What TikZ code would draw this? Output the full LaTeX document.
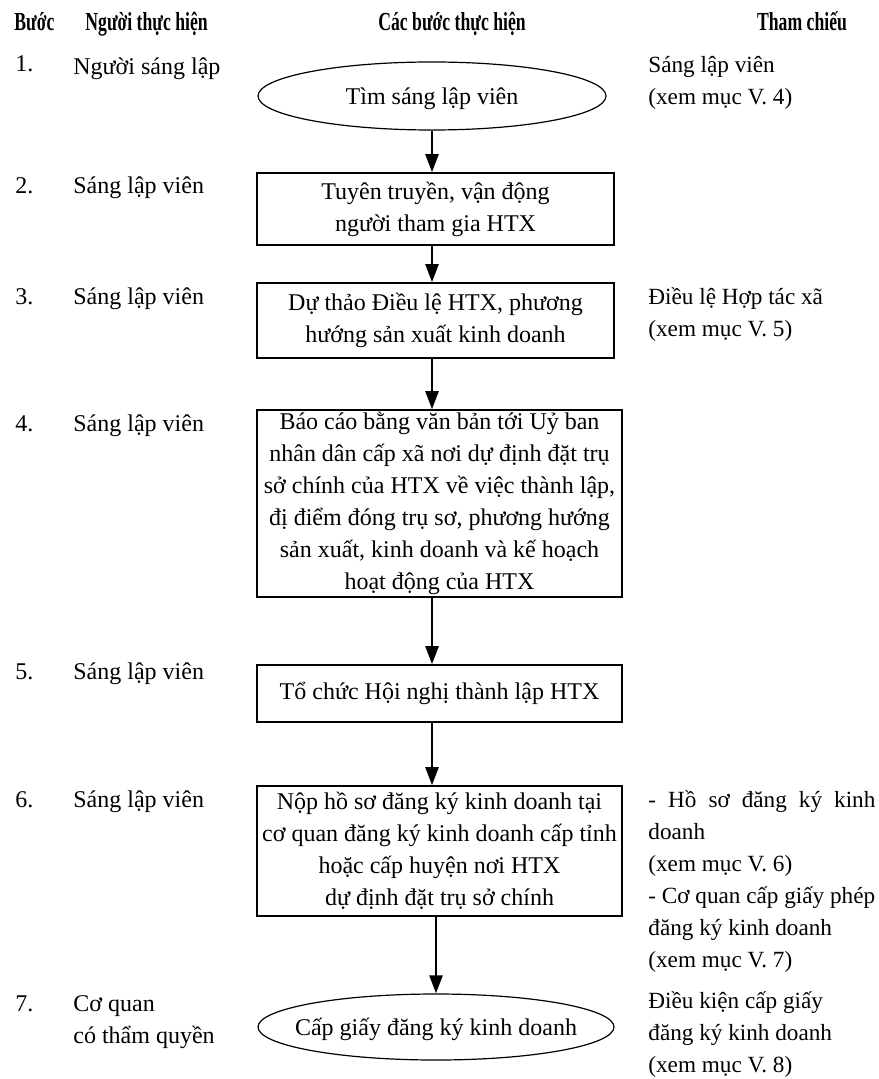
\documentclass[tikz,border=0pt]{standalone}
\usepackage{fontspec}
\setmainfont{Liberation Serif}
\newfontfamily\headfont[FakeStretch=0.68]{Liberation Serif}
\usetikzlibrary{arrows.meta, shapes.geometric}

\begin{document}
\begin{tikzpicture}[x=0.5pt,y=0.5pt,yscale=-1,
    every node/.style={font=\fontsize{12}{16}\selectfont},
    txt/.style={anchor=base west, inner sep=0pt, align=left},
    reftxt/.style={txt, font=\fontsize{11.6}{16}\selectfont},
    hd/.style={anchor=base, inner sep=0pt, font=\headfont\bfseries\fontsize{13}{15}\selectfont},
    stepbox/.style={draw, line width=0.8pt, inner sep=0pt, align=center},
    oval/.style={draw, ellipse, line width=0.6pt, inner sep=0pt},
    flow/.style={-{Triangle[length=9pt,width=6.5pt]}, line width=1.2pt}]
\useasboundingbox (0,0) rectangle (878,1079);

% Header
\node[hd, anchor=base west] (hstep) at (14,31) {Bước};
\node[hd, anchor=base west] (hwho) at (85,31) {Người thực hiện};
\node[hd] (hwhat) at (452,31) {Các bước thực hiện};
\node[hd] (href) at (802,31) {Tham chiếu};

% Step numbers
\node[txt] (n1) at (15,72) {1.};
\node[txt] (n2) at (15,194) {2.};
\node[txt] (n3) at (15,305) {3.};
\node[txt] (n4) at (15,431) {4.};
\node[txt] (n5) at (15,679) {5.};
\node[txt] (n6) at (15,807) {6.};
\node[txt] (n7) at (15,1011) {7.};

% Who does it (multi-line nodes sit on their last line)
\node[txt] (w1) at (73,75) {Người sáng lập};
\node[txt] (w2) at (73,194) {Sáng lập viên};
\node[txt] (w3) at (73,305) {Sáng lập viên};
\node[txt] (w4) at (73,431) {Sáng lập viên};
\node[txt] (w5) at (73,679) {Sáng lập viên};
\node[txt] (w6) at (73,807) {Sáng lập viên};
\node[txt] (w7) at (73,1043) {Cơ quan\\có thẩm quyền};

% Steps
\node[oval, minimum width=174pt, minimum height=34pt] (s1) at (432,96)
  {\makebox[0pt]{\raisebox{-4.5pt}[0pt][0pt]{Tìm sáng lập viên}}};
\node[stepbox, minimum width=178.5pt, minimum height=36pt] (b2) at (435.5,209)
  {Tuyên truyền, vận động\\người tham gia HTX};
\node[stepbox, minimum width=178.5pt, minimum height=37.5pt] (b3) at (435.5,320.5)
  {Dự thảo Điều lệ HTX, phương\\hướng sản xuất kinh doanh};
\node[stepbox, minimum width=182.5pt, minimum height=93.5pt] (b4) at (439.5,503.5)
  {Báo cáo bằng văn bản tới Uỷ ban\\nhân dân cấp xã nơi dự định đặt trụ\\sở chính của HTX về việc thành lập,\\đị điểm đóng trụ sơ, phương hướng\\sản xuất, kinh doanh và kế hoạch\\hoạt động của HTX};
\node[stepbox, minimum width=182.5pt, minimum height=28.5pt] (b5) at (439.5,693.5)
  {Tổ chức Hội nghị thành lập HTX};
\node[stepbox, minimum width=182.5pt, minimum height=65pt] (b6) at (439.5,851)
  {Nộp hồ sơ đăng ký kinh doanh tại\\cơ quan đăng ký kinh doanh cấp tỉnh\\hoặc cấp huyện nơi HTX\\dự định đặt trụ sở chính};
\node[oval, minimum width=178pt, minimum height=33pt] (s7) at (436,1027)
  {\makebox[0pt]{\raisebox{-4pt}[0pt][0pt]{Cấp giấy đăng ký kinh doanh}}};

% Arrows
\draw[flow] (s1.south) -- (s1.south |- b2.north);
\draw[flow] (b2.south -| s1) -- (b3.north -| s1);
\draw[flow] (b3.south -| s1) -- (b4.north -| s1);
\draw[flow] (b4.south -| s1) -- (b5.north -| s1);
\draw[flow] (b5.south -| s1) -- (b6.north -| s1);
\draw[flow] (b6.south -| s7) -- (s7.north);

% References
\node[reftxt] (r1) at (648,105) {Sáng lập viên\\(xem mục V. 4)};
\node[reftxt] (r3) at (648,337) {Điều lệ Hợp tác xã\\(xem mục V. 5)};
\node[reftxt] (r6) at (648,967) {\makebox[113.5pt][s]{- Hồ sơ đăng ký kinh}\\doanh\\(xem mục V. 6)\\- Cơ quan cấp giấy phép\\đăng ký kinh doanh\\(xem mục V. 7)};
\node[reftxt] (r7) at (648,1072) {Điều kiện cấp giấy\\đăng ký kinh doanh\\(xem mục V. 8)};
\end{tikzpicture}
\end{document}
